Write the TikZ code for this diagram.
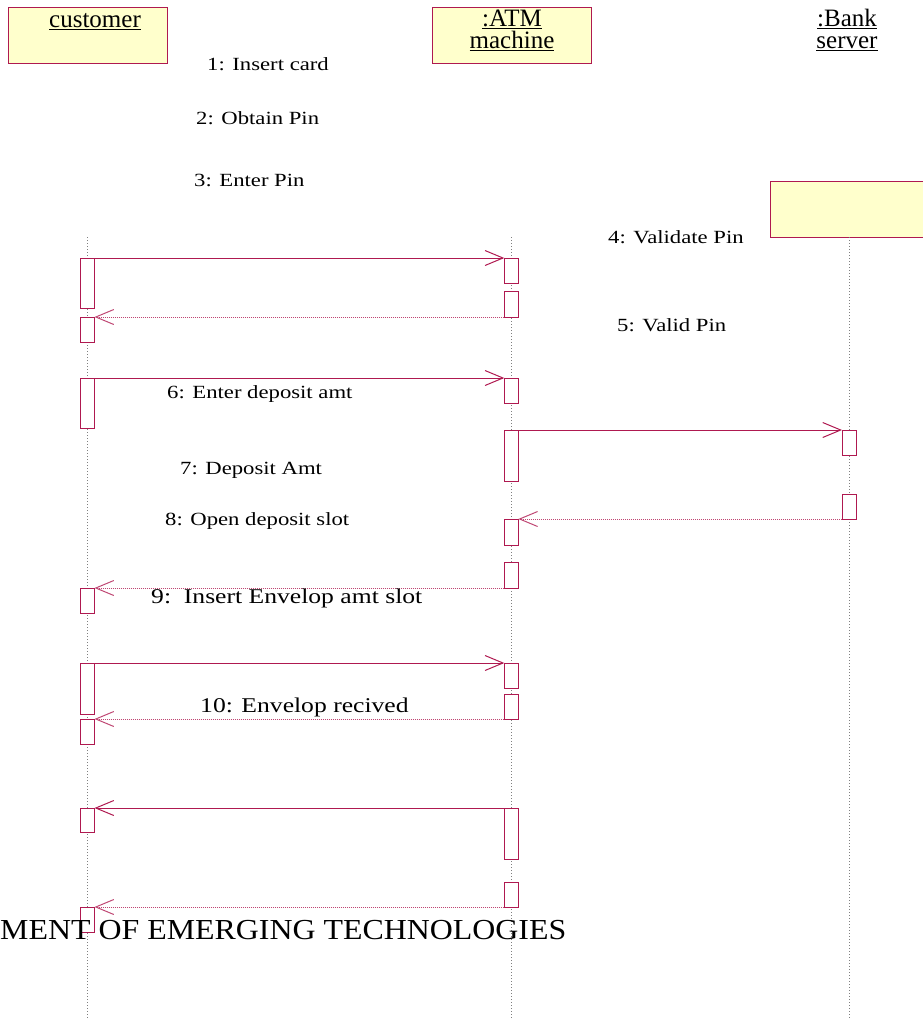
\documentclass[tikz,border=0pt]{standalone}
\usepackage{fontspec}
\setmainfont{Liberation Serif}
\newfontfamily\labfont[FakeStretch=1.22]{Liberation Serif}
\newfontfamily\bannerfont[FakeStretch=1.1]{Liberation Serif}
\usetikzlibrary{arrows.meta}
\definecolor{umlred}{RGB}{175,25,80}
\definecolor{umlfill}{RGB}{255,255,204}
% underlined object name
\newcommand{\objul}[1]{\setbox0\hbox{#1}\rlap{\copy0}\rule[-3pt]{\wd0}{1.2pt}}

\begin{document}
\begin{tikzpicture}[
  x=1pt, y=-1pt,
  objbox/.style={draw=umlred, fill=umlfill, line width=1pt, minimum width=159pt,
    minimum height=56pt, inner sep=0pt, outer sep=0pt, anchor=north west},
  objname/.style={font=\fontsize{25}{22}\selectfont, align=center, inner sep=0pt, anchor=base},
  lifeline/.style={gray, line width=0.7pt, dash pattern=on 1pt off 2pt},
  act/.style={draw=umlred, fill=white, line width=1pt, minimum width=14pt,
    inner sep=0pt, outer sep=0pt, anchor=north},
  call/.style={umlred, line width=0.9pt,
    -{Straight Barb[length=18pt,width=15pt,line width=1pt]}},
  reply/.style={call, umlred!80, dash pattern=on 1pt off 1pt},
  lab/.style={font=\labfont\fontsize{18.6}{20}\selectfont, inner sep=0pt, anchor=base west},
  biglab/.style={lab, font=\labfont\fontsize{21}{23}\selectfont}
]
\useasboundingbox (0,0) rectangle (923,1020);

%================================================
% OBJECTS
%================================================
\node[objbox] (custbox) at (8,7) {};
\node[objbox] (atmbox) at (432,7) {};
\node[objbox] (bankbox) at (770,181) {};

\node[objname] (custname) at (95,27) {\objul{customer}};
\node[objname] (atmname) at (512,48) {\objul{:ATM}\\\objul{machine}};
\node[objname] (bankname) at (847,48) {\objul{:Bank}\\\objul{server}};

%================================================
% LIFELINES
%================================================
\coordinate (custtop) at (87.5,237);
\coordinate (custend) at (87.5,1020);
\coordinate (atmtop) at (511.3,237);
\coordinate (atmend) at (511.3,1020);
\coordinate (bankend) at (849,1020);

\draw[lifeline] (custtop) -- (custend);
\draw[lifeline] (atmtop) -- (atmend);
\draw[lifeline] (bankbox.south -| bankend) -- (bankend);

%================================================
% ACTIVATIONS
%================================================
\foreach \n/\y/\h in {c1/258/50, c2/317/25, c3/378/50, c4/588/25,
                      c5/663/51, c6/719/25, c7/808/24, c8/907/25}
  \node[act, minimum height=\h*1pt] (\n) at (87.5,\y) {};

\foreach \n/\y/\h in {a1/258/25, a2/291/26, a3/378/25, a4/430/51, a5/519/26,
                      a6/562/26, a7/663/25, a8/694/25, a9/808/51, a10/882/25}
  \node[act, minimum height=\h*1pt] (\n) at (511.3,\y) {};

\foreach \n/\y/\h in {b1/430/25, b2/494/25}
  \node[act, minimum height=\h*1pt] (\n) at (849,\y) {};

%================================================
% MESSAGES
%================================================
\draw[call] (c1.north east) -- (a1.north west);
\draw[reply] (a2.south west) -- (c2.north east);
\draw[call] (c3.north east) -- (a3.north west);
\draw[call] (a4.north east) -- (b1.north west);
\draw[reply] (b2.south west) -- (a5.north east);
\draw[reply] (a6.south west) -- (c4.north east);
\draw[call] (c5.north east) -- (a7.north west);
\draw[reply] (a8.south west) -- (c6.north east);
\draw[call] (a9.north west) -- (c7.north east);
\draw[reply] (a10.south west) -- (c8.north east);

% labels
\node[lab] (lab1) at (207,70) {1: Insert card};
\node[lab] (lab2) at (196,124) {2: Obtain Pin};
\node[lab] (lab3) at (194,186) {3: Enter Pin};
\node[lab] (lab4) at (608,243) {4: Validate Pin};
\node[lab] (lab5) at (617,331) {5: Valid Pin};
\node[lab] (lab6) at (167,398) {6: Enter deposit amt};
\node[lab] (lab7) at (180,474) {7: Deposit Amt};
\node[lab] (lab8) at (165,525) {8: Open deposit slot};
\node[biglab] (lab9) at (151,603) {9:\ \ Insert Envelop amt slot};
\node[biglab] (lab10) at (200,712) {10: Envelop recived};

\node[anchor=base west, inner sep=0pt, font=\bannerfont\fontsize{29}{31}\selectfont]
  (banner) at (0,939) {MENT OF EMERGING TECHNOLOGIES};

\end{tikzpicture}
\end{document}
